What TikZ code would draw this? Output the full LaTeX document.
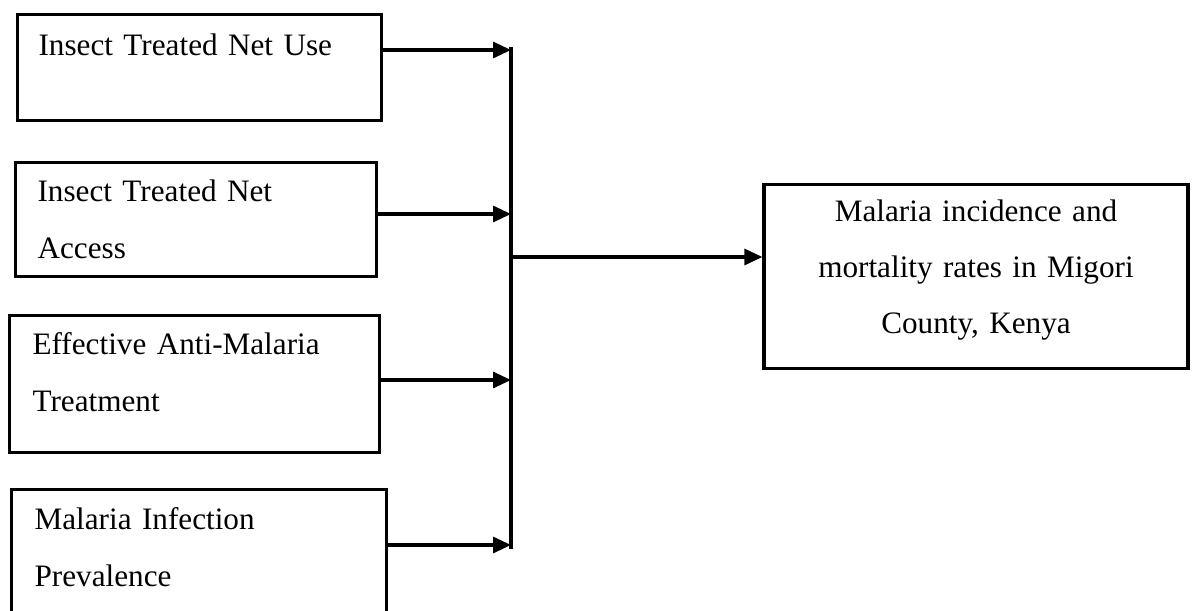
\documentclass[tikz,border=0pt]{standalone}
\usepackage{fontspec}
\setmainfont{Liberation Serif}
\usetikzlibrary{arrows.meta}

\tikzset{
  factor/.style={draw, line width=1.6pt, anchor=north west, align=left,
    inner ysep=0pt, font=\fontsize{15.6}{28.5}\selectfont},
  outcome/.style={draw, line width=1.6pt, anchor=north, align=center,
    inner ysep=0pt, inner xsep=5pt, text width=202pt,
    font=\fontsize{15.6}{28}\selectfont},
  flow/.style={-{Triangle[length=9pt, width=8pt]}, line width=1.6pt},
}

\begin{document}
\begin{tikzpicture}[x=0.5pt, y=-0.5pt]
  \useasboundingbox (0,0) rectangle (1192,610);

  % independent variables
  \node[factor, inner xsep=10.75pt, text width=160.75pt, text height=20.5pt, text depth=32.5pt]
    (use) at (15.5,13) {Insect Treated Net Use};
  \node[factor, inner xsep=11pt, text width=158.5pt, text height=19.5pt, text depth=37.5pt]
    (access) at (14,161) {Insect Treated Net\\Access};
  \node[factor, inner xsep=11.7pt, text width=161.6pt, text height=19.5pt, text depth=49pt]
    (treat) at (7.6,314) {Effective Anti-Malaria\\Treatment};
  \node[factor, inner xsep=11.5pt, text width=164.5pt, text height=20pt, text depth=52pt]
    (prev) at (10,488) {Malaria Infection\\Prevalence};

  % dependent variable
  \node[outcome, text height=18.5pt, text depth=73.5pt] (rates) at (976,183)
    {Malaria incidence and\\mortality rates in Migori\\County, Kenya};

  % collecting line
  \coordinate (bustop) at (511,47);
  \coordinate (busbot) at (511,549);
  \coordinate (busmid) at (511,257);
  \coordinate (j1) at (511,50);
  \coordinate (j2) at (511,214);
  \coordinate (j3) at (511,380);
  \coordinate (j4) at (511,545);
  \draw[line width=1.6pt] (bustop) -- (busbot);

  \draw[flow] (use.east |- j1) -- (j1);
  \draw[flow] (access.east |- j2) -- (j2);
  \draw[flow] (treat.east |- j3) -- (j3);
  \draw[flow] (prev.east |- j4) -- (j4);
  \draw[flow] (busmid) -- (rates.west |- busmid);
\end{tikzpicture}
\end{document}
